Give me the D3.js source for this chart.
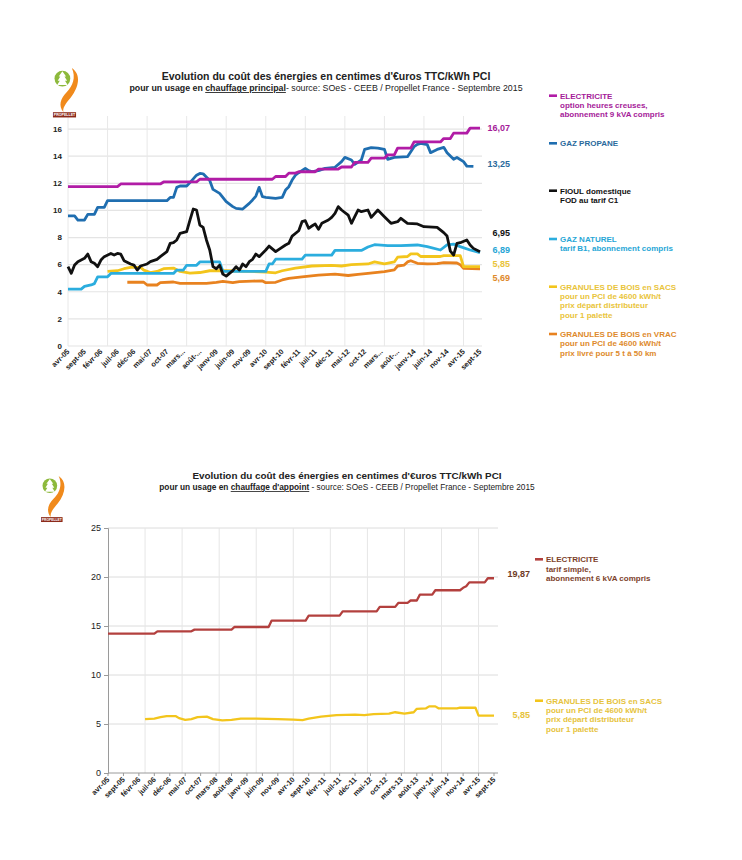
<!DOCTYPE html>
<html>
<head>
<meta charset="utf-8">
<script src="https://cdn.jsdelivr.net/npm/d3@7"></script>
<style>
  body { margin: 0; background: #fff; }
  svg { font-family: "Liberation Sans", Arial, sans-serif; }
</style>
</head>
<body>
<div id="chart"></div>
<script>
// month index 0 = avr-05, 125 = sept-15 ; one label every 5 months
var tickLabelsTop = ["avr-05","sept-05","févr-06","juil-06","déc-06","mai-07","oct-07","mars...","août-...","janv-09","juin-09","nov-09","avr-10","sept-10","févr-11","juil-11","déc-11","mai-12","oct-12","mars...","août-...","janv-14","juin-14","nov-14","avr-15","sept-15"];
var tickLabelsBottom = ["avr-05","sept-05","févr-06","juil-06","déc-06","mai-07","oct-07","mars-08","août-08","janv-09","juin-09","nov-09","avr-10","sept-10","févr-11","juil-11","déc-11","mai-12","oct-12","mars-13","août-13","janv-14","juin-14","nov-14","avr-15","sept-15"];

// series : [month index, centimes d'euro TTC / kWh PCI]
var elecHC = [[0,11.75],[15,11.75],[16,11.95],[28,11.95],[29,12.1],[39,12.1],[40,12.3],[62,12.3],[63,12.5],[66,12.5],[67,12.75],[69,12.75],[70,12.85],[75,12.85],[76,13.05],[82,13.05],[83,13.2],[86,13.2],[87,13.55],[91,13.55],[92,13.85],[96,13.85],[97,14.1],[99,14.1],[100,14.6],[104,14.6],[105,15.05],[113,15.05],[114,15.3],[116,15.3],[117,15.7],[121,15.7],[122,16.07],[125,16.07]];
var propane = [[0,9.59],[2,9.59],[3,9.29],[5,9.29],[6,9.71],[8,9.71],[9,10.23],[11,10.23],[12,10.72],[30,10.72],[31,10.96],[32,10.96],[33,11.7],[34,11.8],[36,11.8],[37,12.05],[39,12.6],[40,12.73],[41,12.7],[43,12.2],[44,11.55],[46,11.26],[48,10.64],[50,10.28],[51,10.15],[53,10.1],[55,10.52],[56,10.77],[57,11.06],[58,11.7],[59,11.01],[60,10.96],[63,10.89],[65,10.96],[66,11.5],[67,11.75],[68,12.24],[69,12.6],[70,12.78],[72,13.1],[73,12.93],[74,12.86],[76,12.93],[78,13.1],[81,13.18],[83,13.6],[84,13.91],[86,13.72],[87,13.4],[89,13.72],[90,14.5],[92,14.63],[94,14.6],[96,14.5],[97,13.77],[99,13.91],[103,13.96],[105,14.7],[106,14.87],[107,14.95],[109,14.85],[110,14.26],[112,14.5],[114,14.65],[115,14.26],[117,13.77],[118,13.9],[120,13.6],[121,13.27],[123,13.25]];
var fioul = [[0,5.85],[1,5.36],[2,5.97],[3,6.22],[5,6.47],[6,6.78],[7,6.22],[8,6.1],[9,5.85],[10,6.34],[11,6.59],[13,6.83],[14,6.71],[15,6.83],[16,6.78],[17,6.29],[19,6.05],[20,5.97],[21,5.6],[22,5.9],[24,6.05],[25,6.22],[27,6.39],[28,6.59],[30,6.96],[31,7.57],[32,7.62],[33,7.82],[34,8.31],[36,8.43],[37,9.29],[38,10.1],[39,10.03],[40,8.92],[41,8.75],[42,7.82],[43,7.08],[44,5.85],[45,5.7],[46,5.95],[47,5.3],[48,5.15],[49,5.36],[50,5.56],[51,5.85],[52,5.6],[53,6.05],[54,5.85],[55,6.22],[56,6.39],[57,6.78],[58,6.59],[60,7.08],[61,7.37],[63,6.96],[64,7.13],[66,7.45],[67,7.57],[68,8.11],[70,8.5],[71,9.17],[72,9.24],[73,8.68],[74,8.85],[75,9.0],[76,8.6],[77,9.05],[79,9.29],[80,9.49],[81,9.78],[82,10.28],[83,10.03],[85,9.66],[86,9.05],[87,9.54],[88,10.03],[89,9.91],[91,10.03],[92,9.49],[94,10.03],[96,9.54],[98,9.05],[100,9.17],[101,9.42],[103,9.05],[106,9.0],[108,8.8],[112,8.75],[114,8.36],[115,8.11],[116,7.0],[117,6.71],[118,7.57],[119,7.62],[121,7.82],[122,7.45],[123,7.2],[125,6.95]];
var gazNat = [[0,4.2],[4,4.2],[5,4.4],[7,4.5],[8,4.6],[9,5.1],[12,5.1],[13,5.35],[32,5.35],[33,5.6],[35,5.6],[36,5.95],[39,5.95],[40,6.2],[46,6.2],[47,5.5],[60,5.5],[61,6.05],[62,6.05],[63,6.4],[71,6.4],[72,6.7],[80,6.7],[81,7.05],[89,7.05],[91,7.3],[93,7.47],[97,7.4],[101,7.4],[106,7.45],[109,7.33],[113,7.08],[115,7.45],[117,7.52],[119,7.33],[122,7.08],[125,6.89]];
var granSacs = [[12,5.5],[15,5.55],[17,5.7],[19,5.8],[22,5.8],[23,5.6],[25,5.42],[27,5.5],[29,5.7],[32,5.75],[34,5.5],[37,5.38],[40,5.42],[43,5.55],[48,5.55],[55,5.5],[60,5.45],[63,5.4],[65,5.55],[69,5.75],[74,5.9],[80,5.95],[83,5.9],[86,6.0],[91,6.05],[93,6.2],[96,6.05],[99,6.2],[100,6.55],[103,6.6],[104,6.8],[106,6.8],[107,6.6],[113,6.6],[114,6.66],[119,6.66],[120,5.85],[125,5.85]];
var granVrac = [[18,4.7],[23,4.7],[24,4.5],[27,4.5],[28,4.67],[32,4.72],[34,4.62],[42,4.62],[45,4.7],[47,4.77],[50,4.67],[52,4.75],[56,4.79],[59,4.8],[60,4.67],[63,4.7],[65,4.87],[67,4.99],[71,5.1],[76,5.22],[81,5.3],[85,5.2],[88,5.29],[91,5.36],[96,5.48],[99,5.62],[100,5.9],[102,5.97],[103,6.2],[104,6.29],[106,6.1],[109,6.05],[112,6.08],[114,6.15],[118,6.12],[119,6.0],[120,5.72],[125,5.69]];
var elecSimple = [[0,14.22],[15,14.22],[16,14.46],[27,14.46],[28,14.63],[40,14.63],[41,14.9],[52,14.9],[53,15.55],[64,15.55],[65,16.05],[75,16.05],[76,16.5],[87,16.5],[88,16.95],[93,16.95],[94,17.35],[97,17.35],[98,17.6],[100,17.6],[101,18.2],[105,18.2],[106,18.65],[114,18.65],[115,18.9],[116,19.05],[117,19.45],[122,19.45],[123,19.87],[125,19.87]];

// legend texts and end values
var legendTop = [
  ["ELECTRICITE","option heures creuses,","abonnement 9 kVA compris"],
  ["GAZ PROPANE"],
  ["FIOUL domestique","FOD au tarif C1"],
  ["GAZ NATUREL","tarif B1, abonnement compris"],
  ["GRANULES DE BOIS en SACS","pour un PCI de 4600 kWh/t","prix départ distributeur","pour 1 palette"],
  ["GRANULES DE BOIS en VRAC","pour un PCI de 4600 kWh/t","prix livré pour 5 t à 50 km"]
];
var endLabelsTop = ["16,07","13,25","6,95","6,89","5,85","5,69"];
var legendBottom = [
  ["ELECTRICITE","tarif simple,","abonnement 6 kVA compris"],
  ["GRANULES DE BOIS en SACS","pour un PCI de 4600 kWh/t","prix départ distributeur","pour 1 palette"]
];
var endLabelsBottom = ["19,87","5,85"];
var yTicksTop = [0,2,4,6,8,10,12,14,16];
var yTicksBottom = [0,5,10,15,20,25];

var svg = d3.select("#chart").append("svg")
    .attr("width", 742)
    .attr("height", 860);

// little propellet logo
function drawLogo(x, y, s) {
  var g = svg.append("g").attr("transform", "translate(" + x + "," + y + ") scale(" + s + ")");
  g.append("path")
    .attr("d", "M17,2 C26,8 24,20 16,30 C11,36 8,40 9,44 C4,38 6,31 12,25 C18,19 21,11 17,2 Z")
    .attr("fill", "#f08a1c");
  g.append("circle").attr("cx", 8).attr("cy", 12).attr("r", 7.5).attr("fill", "#8db93c");
  g.append("path")
    .attr("d", "M8,5 L11.5,10 L10,10 L12.5,14 L10.5,14 L13,18 L3,18 L5.5,14 L3.5,14 L6,10 L4.5,10 Z")
    .attr("fill", "#fff");
  g.append("rect").attr("x", -1).attr("y", 44).attr("width", 22).attr("height", 5).attr("fill", "#8c2a1a");
  g.append("text").attr("x", 10).attr("y", 47.8).attr("text-anchor", "middle")
    .attr("font-size", 3.4).attr("font-weight", "bold").attr("fill", "#fff").text("PROPELLET");
}

function drawTitle(cx, y, usage, size1, size2) {
  svg.append("text").attr("x", cx).attr("y", y).attr("text-anchor", "middle")
    .attr("font-size", size1).attr("font-weight", "bold").attr("fill", "#222")
    .text("Evolution du coût des énergies en centimes d'€uros TTC/kWh PCI");
  var t = svg.append("text").attr("x", cx).attr("y", y + 11).attr("text-anchor", "middle")
    .attr("font-size", size2).attr("fill", "#222");
  t.append("tspan").attr("font-weight", "bold").text("pour un usage en ");
  t.append("tspan").attr("font-weight", "bold").attr("text-decoration", "underline").text(usage);
  t.append("tspan").text(usage == "chauffage principal"
    ? "- source: SOeS - CEEB / Propellet France -  Septembre 2015"
    : " - source: SOeS - CEEB / Propellet France - Septembre 2015");
}

function drawLegend(items, colors, textColors, x, ys) {
  items.forEach(function(lines, i) {
    svg.append("rect").attr("x", x - 11).attr("y", ys[i] - 1.3).attr("width", 8).attr("height", 2.6)
      .attr("fill", colors[i]);
    var t = svg.append("text").attr("font-size", 8).attr("font-weight", "bold").attr("fill", textColors[i]);
    lines.forEach(function(l, j) {
      t.append("tspan").attr("x", x).attr("y", ys[i] + 3 + j * 9.3).text(l);
    });
  });
}

// ---------------- top chart : chauffage principal ----------------
var xTop = d3.scaleLinear().domain([0, 125]).range([68, 480]);
var yTop = d3.scaleLinear().domain([0, 17]).range([346, 115.5]);

var topG = svg.append("g");

topG.selectAll("line.hg").data(yTicksTop).enter().append("line")
    .attr("x1", 68).attr("x2", 482)
    .attr("y1", function(d) { return yTop(d); })
    .attr("y2", function(d) { return yTop(d); })
    .style("stroke", "#e4e4e4").style("stroke-width", 1.2);
topG.selectAll("line.vg").data(d3.range(0, 126, 12)).enter().append("line")
    .attr("x1", function(d) { return xTop(d); })
    .attr("x2", function(d) { return xTop(d); })
    .attr("y1", yTop(0)).attr("y2", 116)
    .style("stroke", "#e8e8e8");

topG.selectAll("text.yl").data(yTicksTop).enter().append("text")
    .attr("x", 62).attr("y", function(d) { return yTop(d) + 2.8; })
    .attr("text-anchor", "end").attr("font-size", 8).attr("font-weight", "bold").attr("fill", "#222")
    .text(function(d) { return d; });
topG.selectAll("text.xl").data(tickLabelsTop).enter().append("text")
    .attr("text-anchor", "end").attr("font-size", 7.4).attr("font-weight", "bold").attr("fill", "#222")
    .attr("transform", function(d, i) { return "translate(" + (xTop(i * 5) + 2) + ",352) rotate(-45)"; })
    .text(function(d) { return d; });

var lineTop = d3.line()
    .x(function(d) { return xTop(d[0]); })
    .y(function(d) { return yTop(d[1]); });

var topSeries = [granVrac, granSacs, gazNat, propane, elecHC, fioul];
var topColors = ["#e8821f", "#f3c51c", "#2badde", "#1f6eb0", "#b11ca6", "#111111"];
topG.selectAll("path.s").data(topSeries).enter().append("path")
    .attr("d", lineTop)
    .style("fill", "none")
    .style("stroke", function(d, i) { return topColors[i]; })
    .style("stroke-width", 2.8)
    .style("stroke-linejoin", "round");

var legendColorsTop = ["#b11ca6", "#1f6eb0", "#111111", "#2badde", "#f3c51c", "#e8821f"];
var legendTextTop = ["#a51a99", "#2a6a9c", "#111111", "#27a6d6", "#e9c43a", "#de8a2c"];
drawLegend(legendTop, legendColorsTop, legendTextTop, 560, [95.7, 143.3, 190.7, 239, 286.7, 334]);

var endYTop = [127.3, 164, 232.7, 249.3, 264, 277.7];
endLabelsTop.forEach(function(l, i) {
  svg.append("text").attr("x", 510).attr("y", endYTop[i] + 3.2).attr("text-anchor", "end")
    .attr("font-size", 9).attr("font-weight", "bold").attr("fill", legendTextTop[i]).text(l);
});

drawLogo(54, 66, 1.05);
drawTitle(326, 80, "chauffage principal", 10.5, 8.8);

// ---------------- bottom chart : chauffage d'appoint ----------------
var xBot = d3.scaleLinear().domain([0, 125]).range([108, 494]);
var yBot = d3.scaleLinear().domain([0, 25]).range([773, 528]);

var botG = svg.append("g");
botG.selectAll("line.hg").data(yTicksBottom.slice(1)).enter().append("line")
    .attr("x1", 108).attr("x2", 498)
    .attr("y1", function(d) { return yBot(d); })
    .attr("y2", function(d) { return yBot(d); })
    .style("stroke", "#dcdcdc");
botG.selectAll("line.vg").data(d3.range(12, 126, 12)).enter().append("line")
    .attr("x1", function(d) { return xBot(d); })
    .attr("x2", function(d) { return xBot(d); })
    .attr("y1", yBot(0)).attr("y2", yBot(25))
    .style("stroke", "#e6e6e6");

// axes
botG.append("g")
    .attr("transform", "translate(108,0)")
    .call(d3.axisLeft(yBot).tickValues(yTicksBottom).tickSize(4).tickPadding(3))
    .call(function(g) {
      g.selectAll("path, line").attr("stroke", "#9a9a9a");
      g.selectAll("text").attr("font-size", 9).attr("fill", "#222").attr("font-family", "Liberation Sans, Arial, sans-serif");
    });
botG.append("line").attr("x1", 108).attr("x2", 498).attr("y1", yBot(0)).attr("y2", yBot(0))
    .style("stroke", "#9a9a9a");
botG.selectAll("line.xt").data(tickLabelsBottom).enter().append("line")
    .attr("x1", function(d, i) { return xBot(i * 5); })
    .attr("x2", function(d, i) { return xBot(i * 5); })
    .attr("y1", yBot(0)).attr("y2", yBot(0) + 3)
    .style("stroke", "#9a9a9a");
botG.selectAll("text.xl").data(tickLabelsBottom).enter().append("text")
    .attr("text-anchor", "end").attr("font-size", 7.4).attr("font-weight", "bold").attr("fill", "#222")
    .attr("transform", function(d, i) { return "translate(" + (xBot(i * 5) + 2) + ",780) rotate(-45)"; })
    .text(function(d) { return d; });

var lineBot = d3.line()
    .x(function(d) { return xBot(d[0]); })
    .y(function(d) { return yBot(d[1]); });

var botColors = ["#b3403e", "#f3c51c"];
botG.selectAll("path.s").data([elecSimple, granSacs]).enter().append("path")
    .attr("d", lineBot)
    .style("fill", "none")
    .style("stroke", function(d, i) { return botColors[i]; })
    .style("stroke-width", 2.3)
    .style("stroke-linejoin", "round");

var legendTextBot = ["#7d3f2b", "#e6c33c"];
drawLegend(legendBottom, botColors, legendTextBot, 546, [559.3, 700.7]);

var endYBot = [573.3, 714.3];
var endColorsBot = ["#6e3a24", "#e6c33c"];
endLabelsBottom.forEach(function(l, i) {
  svg.append("text").attr("x", 530).attr("y", endYBot[i] + 3.2).attr("text-anchor", "end")
    .attr("font-size", 9).attr("font-weight", "bold").attr("fill", endColorsBot[i]).text(l);
});

drawLogo(42, 474, 0.98);
drawTitle(347, 479, "chauffage d'appoint", 9.9, 8.3);
</script>
</body>
</html>
